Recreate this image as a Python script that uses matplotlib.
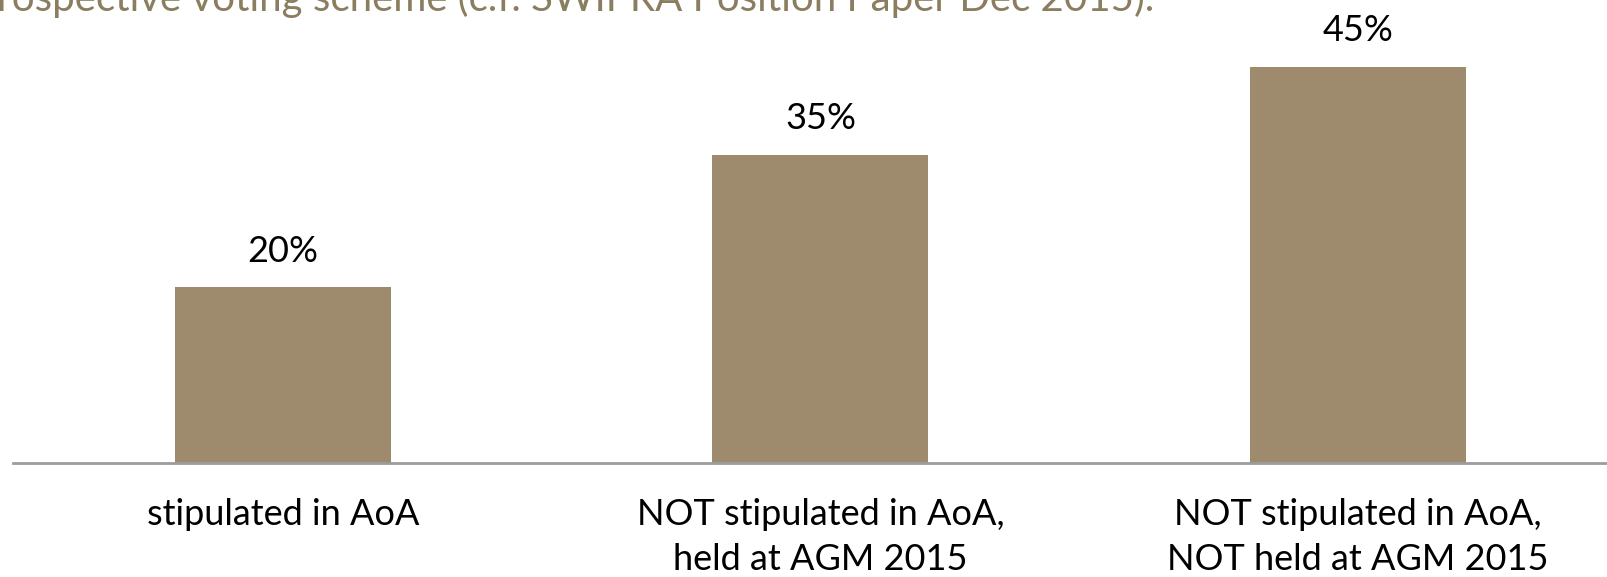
import matplotlib.pyplot as plt

categories = ["stipulated in AoA",
              "NOT stipulated in AoA,\nheld at AGM 2015",
              "NOT stipulated in AoA,\nNOT held at AGM 2015"]
shares = [20, 35, 45]
heading = "rospective voting scheme (c.f. SWIPRA Position Paper Dec 2015)."

BAR_COLOR = "#9E8B6E"
AXIS_COLOR = "#9C9C9C"
TEXT_COLOR = "#8B7D5F"

plt.rcParams["font.family"] = ["Lato", "DejaVu Sans"]

fig = plt.figure(figsize=(16.08, 5.77), dpi=100)
# axes spans from the baseline (~463px) to the top of the figure
ax = fig.add_axes([13 / 1608, 1 - 463.4 / 577, 1 - 13 / 1608, 463.4 / 577])

x = range(len(categories))
bars = ax.bar(x, shares, width=0.402, color=BAR_COLOR, zorder=2)
ax.set_xlim(-0.502, 2.465)
ax.set_ylim(0, 52.6)

for b, v in zip(bars, shares):
    ax.annotate(f"{v}%", (b.get_x() + b.get_width() / 2, v),
                xytext=(0, 18.5), textcoords="offset points",
                ha="center", va="baseline", fontsize=26, color="black")

ax.set_xticks(list(x))
ax.set_xticklabels(categories, fontsize=26, linespacing=1.45)
ax.tick_params(axis="x", length=0, pad=25)
ax.set_yticks([])
for side in ["top", "right", "left"]:
    ax.spines[side].set_visible(False)
ax.spines["bottom"].set_color(AXIS_COLOR)
ax.spines["bottom"].set_linewidth(2)

fig.text(-0.002, 1 - 11 / 577, heading, fontsize=29, color=TEXT_COLOR,
         ha="left", va="baseline")

fig.savefig("out.png", dpi=100)
